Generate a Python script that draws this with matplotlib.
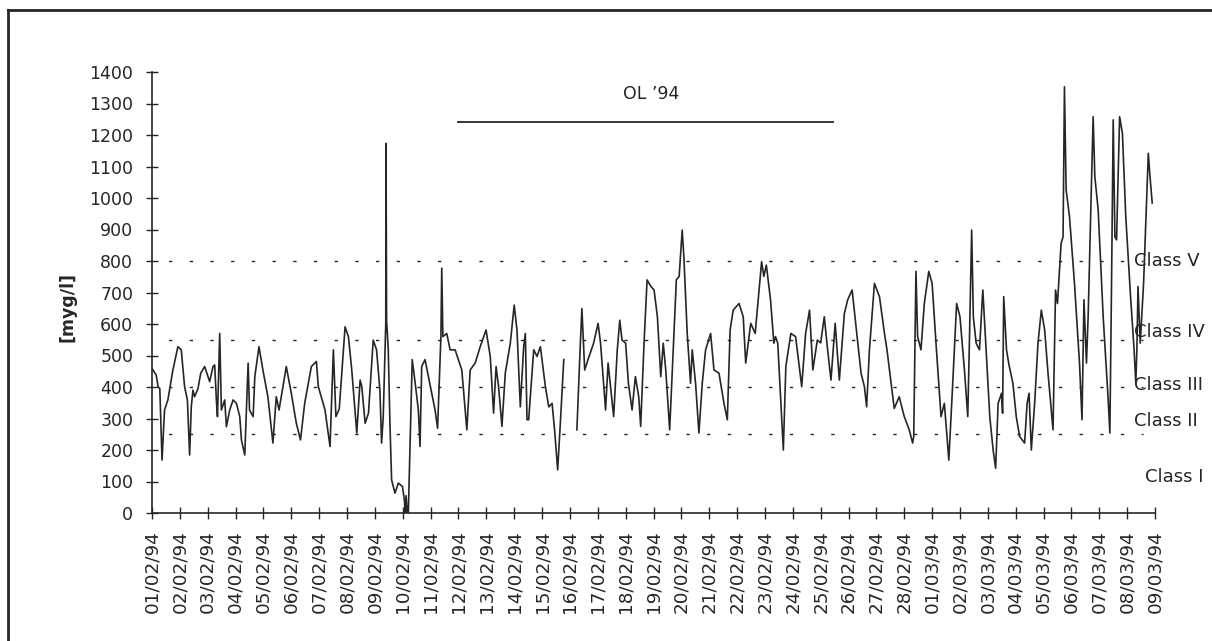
import numpy as np
import pandas as pd
import matplotlib
matplotlib.use("Agg")
import matplotlib.pyplot as plt
from matplotlib.lines import Line2D

plt.rcParams["font.family"] = ["DejaVu Sans"]

# Measurement times (days since 01/02/94 00:00) and concentrations [myg/l]
t_days = [
    0.00, 0.15, 0.22, 0.28, 0.36, 0.45, 0.57, 0.75, 0.93, 1.05, 1.17, 1.27, 1.35, 1.41,
    1.47, 1.53, 1.65, 1.75, 1.89, 2.07, 2.19, 2.25, 2.31, 2.35, 2.40, 2.43, 2.49, 2.61,
    2.67, 2.79, 2.91, 3.03, 3.15, 3.21, 3.33, 3.45, 3.50, 3.63, 3.69, 3.84, 3.98, 4.16,
    4.34, 4.46, 4.56, 4.82, 5.00, 5.18, 5.33, 5.48, 5.72, 5.90, 5.97, 6.21, 6.39, 6.51,
    6.60, 6.72, 6.93, 7.05, 7.17, 7.35, 7.47, 7.53, 7.65, 7.77, 7.94, 8.06, 8.18, 8.24,
    8.30, 8.39, 8.40, 8.42, 8.48, 8.54, 8.60, 8.72, 8.84, 8.99, 9.06, 9.09, 9.12, 9.16,
    9.20, 9.34,
    9.44, 9.56, 9.62, 9.68, 9.80, 9.92, 10.04, 10.16, 10.25, 10.37, 10.40, 10.44, 10.58,
    10.70, 10.88, 11.12, 11.30, 11.42, 11.60, 11.78, 11.99, 12.14, 12.26, 12.35, 12.44,
    12.56, 12.68, 12.86, 13.00, 13.10, 13.22, 13.34, 13.40, 13.46, 13.52, 13.70, 13.82,
    13.94, 14.12, 14.24, 14.36, 14.45, 14.56, 14.65, 14.78,
    15.00,
    15.25, 15.37, 15.43, 15.53, 15.65, 15.85, 16.01, 16.10, 16.28, 16.37, 16.46, 16.57,
    16.70, 16.79, 16.87, 17.00, 17.10, 17.23, 17.35, 17.47, 17.54, 17.66, 17.77, 17.90,
    18.02, 18.14, 18.26, 18.35, 18.44, 18.58, 18.67, 18.82, 18.92, 19.03, 19.09, 19.21,
    19.33, 19.39, 19.51, 19.63, 19.75, 19.87, 20.05, 20.17, 20.35, 20.53, 20.65, 20.75,
    20.86, 21.07, 21.22, 21.31, 21.49, 21.65, 21.79, 21.88, 21.96, 22.05, 22.20, 22.32,
    22.38, 22.46, 22.66, 22.75, 22.93, 23.10, 23.32, 23.46, 23.60, 23.72, 23.88, 24.00,
    24.13, 24.25, 24.37, 24.52, 24.67, 24.85, 24.97, 25.13, 25.27, 25.45, 25.57, 25.65,
    25.75, 25.93, 26.11, 26.29, 26.38, 26.47, 26.64, 26.82, 27.00, 27.18, 27.30, 27.34,
    27.42, 27.48, 27.60, 27.72, 27.88, 28.00, 28.14, 28.32, 28.44, 28.60, 28.74, 28.88,
    29.00, 29.16, 29.28, 29.34, 29.42, 29.48, 29.58, 29.70, 29.82, 29.95, 30.07, 30.19,
    30.28, 30.37, 30.49, 30.53, 30.57, 30.67, 30.76, 30.90, 31.02, 31.14, 31.32, 31.41,
    31.48, 31.56, 31.68, 31.80, 31.92, 32.04, 32.16, 32.34, 32.43, 32.50, 32.63, 32.70,
    32.75, 32.81, 32.93, 33.11, 33.29, 33.38, 33.45, 33.54, 33.60, 33.78, 33.84, 33.96,
    34.14, 34.32, 34.38, 34.44, 34.50, 34.56, 34.62, 34.73, 34.83, 34.95, 35.13, 35.25,
    35.31, 35.35, 35.39, 35.47, 35.59, 35.76, 35.82, 35.90,
]
conc = [
    459, 438, 401, 395, 168, 327, 359, 454, 528, 518, 401, 359, 184, 337,
    390, 369, 395, 444, 465, 417, 465, 470, 359, 306, 476, 570, 327, 359,
    274, 327, 359, 348, 306, 232, 184, 476, 327, 306, 433, 528, 454, 369,
    222, 369, 327, 465, 380, 285, 232, 348, 465, 481, 401, 327, 211, 518,
    306, 330, 591, 560, 454, 254, 422, 401, 285, 317, 549, 518, 390, 222,
    306, 602, 1173, 612, 518, 285, 105, 63, 95, 84, 40, 0, 55, 0,
    0, 487,
    417, 327, 211, 465, 487, 433, 380, 327, 269, 560, 777, 560, 570,
    518, 518, 454, 264, 454, 476, 528, 581, 497, 317, 465, 401,
    275, 444, 539, 660, 581, 337, 528, 570, 296, 296, 518, 497,
    528, 401, 337, 348, 264, 137, 275, 487,
    np.nan,
    264, 528, 649, 454, 487, 539, 602, 539, 327, 476, 401, 306,
    518, 612, 549, 539, 412, 327, 433, 369, 275, 539, 740, 720,
    708, 623, 433, 539, 454, 264, 444, 740, 751, 898, 814, 570,
    412, 518, 412, 254, 412, 518, 570, 454, 444, 348, 296, 581,
    644, 665, 623, 476, 602, 570, 708, 798, 751, 787, 677, 539,
    560, 539, 200, 465, 570, 560, 401, 570, 644, 454, 549, 540,
    623, 518, 422, 602, 422, 633, 677, 708, 591, 444, 401, 337,
    518, 729, 687, 570, 518, 454, 332, 369, 306, 264, 222, 243,
    767, 560, 518, 665, 767, 729, 539, 306, 348, 168, 412, 665,
    623, 454, 306, 549, 898, 623, 539, 518, 708, 497, 306, 200,
    142, 348, 380, 317, 687, 518, 470, 412, 306, 243, 222, 348,
    380, 200, 348, 539, 644, 581, 444, 264, 708, 665, 856, 877,
    1353, 1026, 942, 729, 476, 296, 677, 476, 623, 1258, 1068, 963,
    623, 359, 254, 729, 1248, 877, 867, 1258, 1206, 942, 677, 518,
    412, 518, 719, 539, 729, 1142, 1068, 984,
]

# Concentration class limits and names
class_limits = [250, 400, 550, 800]
class_names = ["Class I", "Class II", "Class III", "Class IV", "Class V"]

# Olympic period marker (OL '94)
ol_label = "OL \u201994"
ol_start, ol_end, ol_level = 11.0, 24.45, 1240

dates = pd.date_range("1994-02-01", "1994-03-09", freq="D")
tick_labels = [d.strftime("%d/%m/%y") for d in dates]

INK = "#262626"
W, H = 1212, 641
fig = plt.figure(figsize=(W / 100, H / 100), dpi=100)
ax = fig.add_axes([152 / W, 1 - 513 / H, (1155 - 152) / W, (513 - 72) / H])

ax.plot(t_days, conc, color=INK, lw=1.2, zorder=3)

ax.set_xlim(0, len(dates) - 1)
ax.set_ylim(0, 1400)
ax.set_yticks(np.arange(0, 1401, 100))
ax.set_xticks(np.arange(len(dates)))
ax.set_xticklabels(tick_labels, rotation=90)
for side in ("top", "right"):
    ax.spines[side].set_visible(False)
for side in ("left", "bottom"):
    ax.spines[side].set_color(INK)
    ax.spines[side].set_linewidth(1.2)
ax.tick_params(direction="inout", length=9, width=1.0, color=INK,
               labelcolor=INK, labelsize=12.5)
ax.tick_params(axis="x", pad=8, labelsize=13.2)
ax.tick_params(axis="y", pad=9)

# Class limit lines
ax.hlines(class_limits, 0, 35.57, colors=INK, linewidth=1.0,
          linestyles=[(3, (2.4, 12.5))], clip_on=False, zorder=2)

# Class names at the right of the plot area
class_label_x = [35.64, 35.25, 35.25, 35.25, 35.25]
class_label_y = [114, 292, 406, 575, 800]
for name, lx, ly in zip(class_names, class_label_x, class_label_y):
    ax.text(lx, ly, name, ha="left", va="center", fontsize=13,
            color=INK, clip_on=False, zorder=4)

# Olympic period
ax.plot([ol_start, ol_end], [ol_level, ol_level], color=INK, lw=1.3)
ax.text(17.9, 1330, ol_label, ha="center", va="center", fontsize=12.5, color=INK)

fig.text(68 / W, 1 - 307 / H, "[myg/l]", rotation=90, ha="center", va="center",
         fontsize=12.5, fontweight="bold", color=INK)

# Frame around the figure
fig.add_artist(Line2D([8 / W, 8 / W], [0, 1 - 10 / H], transform=fig.transFigure,
                      color=INK, lw=2.0))
fig.add_artist(Line2D([8 / W, 1], [1 - 10 / H, 1 - 10 / H], transform=fig.transFigure,
                      color=INK, lw=2.0))

fig.savefig("out.png", dpi=100, facecolor="white")
